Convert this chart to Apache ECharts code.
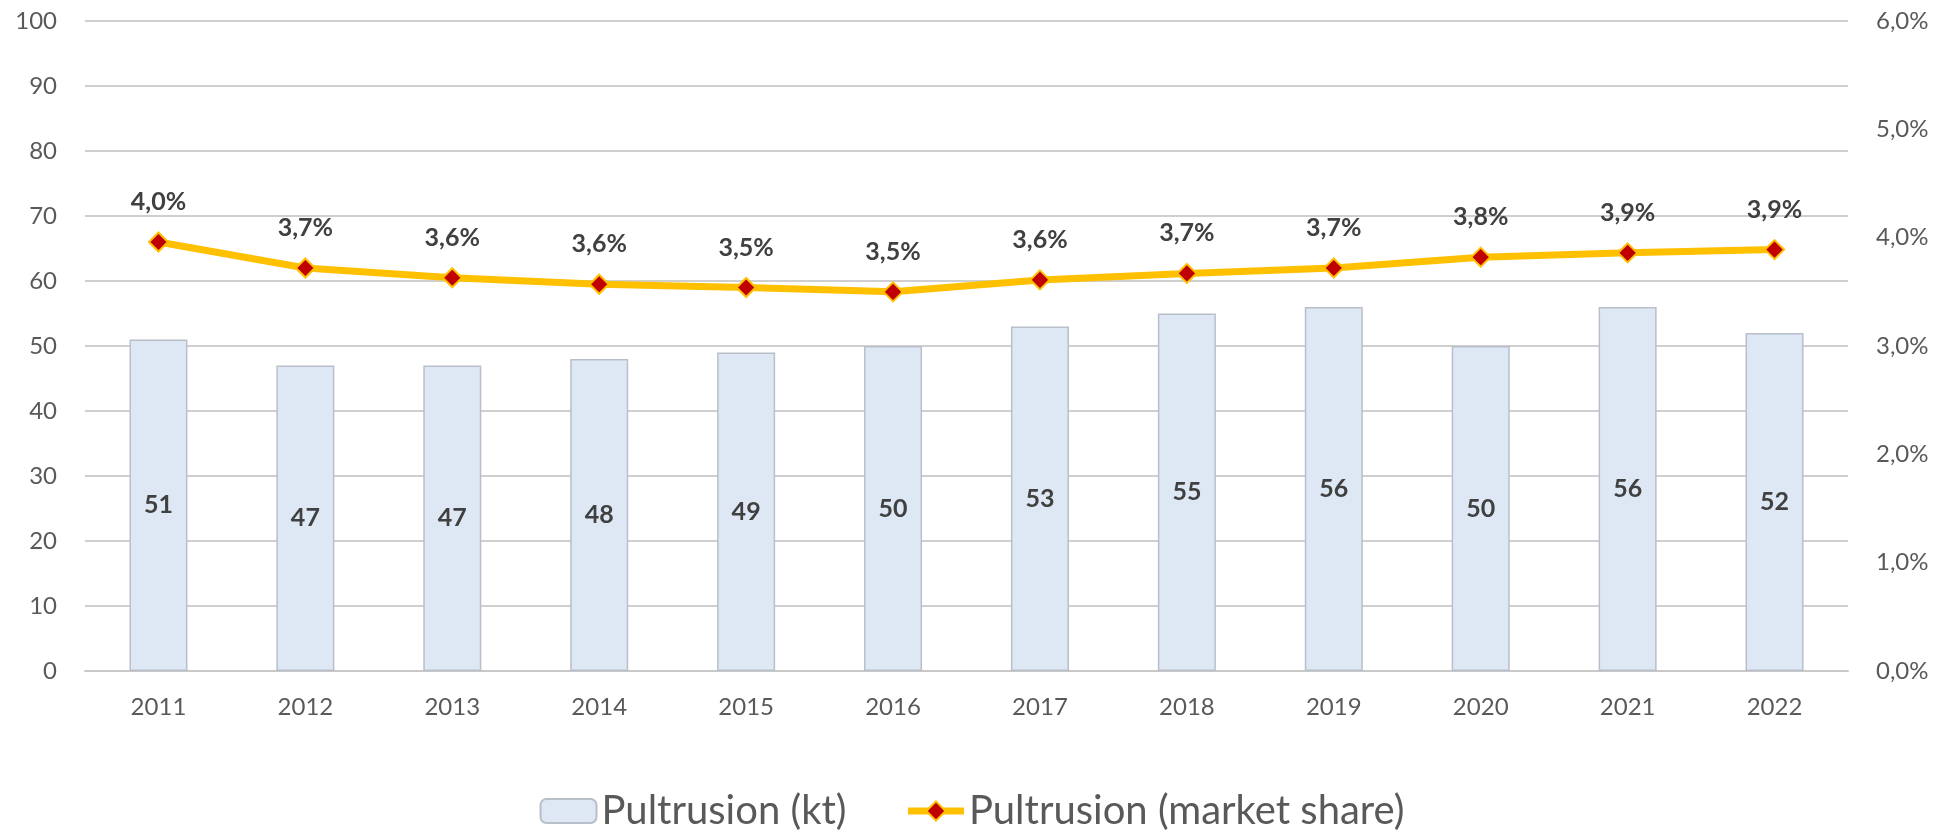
<!DOCTYPE html>
<html style="height:100%;">
<head>
  <meta charset="utf-8">
  <script src="https://cdn.jsdelivr.net/npm/echarts@6/dist/echarts.min.js"></script>
  <style>
    html, body { margin: 0; padding: 0; background: #fff; }
    #chart { width: 1944px; height: 834px; }
  </style>
</head>
<body>
  <div id="chart"></div>
  <script>
    // years on the x axis
    const years = ['2011', '2012', '2013', '2014', '2015', '2016', '2017', '2018', '2019', '2020', '2021', '2022'];
    // volume, kt
    const volume = [51, 47, 47, 48, 49, 50, 53, 55, 56, 50, 56, 52];
    // market share, %
    const share = [3.96, 3.72, 3.63, 3.57, 3.54, 3.50, 3.61, 3.67, 3.72, 3.82, 3.86, 3.89];

    const fmtPct = v => v.toFixed(1).replace('.', ',') + '%';
    const font = 'Lato, "Open Sans", sans-serif';

    const chart = echarts.init(document.getElementById('chart'));
    chart.setOption({
      backgroundColor: '#ffffff',
      animation: false,
      textStyle: { fontFamily: font },
      grid: { left: 85, right: 96, top: 21, bottom: 163 },
      legend: {
        top: 786,
        left: 'center',
        itemWidth: 56,
        itemHeight: 24,
        itemGap: 58,
        textStyle: { fontSize: 40, color: '#595959', fontFamily: font },
        data: [
          { name: 'Pultrusion (kt)' },
          {
            name: 'Pultrusion (market share)',
            lineStyle: { width: 7, color: '#ffc000' },
            itemStyle: { color: '#c00000', borderColor: '#ffc000', borderWidth: 2 }
          }
        ]
      },
      xAxis: {
        type: 'category',
        data: years,
        axisTick: { show: false },
        axisLine: { lineStyle: { color: '#c8c8c8', width: 2 } },
        axisLabel: { fontSize: 24, color: '#595959', margin: 24 }
      },
      yAxis: [{
        type: 'value',
        min: 0,
        max: 100,
        interval: 10,
        axisLine: { show: false },
        axisTick: { show: false },
        axisLabel: { fontSize: 24, color: '#595959', margin: 28 },
        splitLine: { lineStyle: { color: '#cfcfcf', width: 2 } }
      }, {
        type: 'value',
        min: 0,
        max: 6,
        interval: 1,
        axisLine: { show: false },
        axisTick: { show: false },
        splitLine: { show: false },
        axisLabel: { fontSize: 24, color: '#595959', margin: 28, formatter: v => fmtPct(v) }
      }],
      series: [{
        name: 'Pultrusion (kt)',
        type: 'bar',
        data: volume,
        barWidth: '39.5%',
        itemStyle: { color: '#dee8f4', borderColor: '#b9bfc9', borderWidth: 1.5 },
        label: {
          show: true,
          position: 'inside',
          fontSize: 25,
          fontWeight: 'bold',
          color: '#404040'
        }
      }, {
        name: 'Pultrusion (market share)',
        type: 'line',
        yAxisIndex: 1,
        data: share,
        symbol: 'diamond',
        symbolSize: 19,
        z: 5,
        lineStyle: { color: '#ffc000', width: 7 },
        itemStyle: { color: '#c00000', borderColor: '#ffc000', borderWidth: 2 },
        label: {
          show: true,
          position: 'top',
          distance: 17,
          fontSize: 25,
          fontWeight: 'bold',
          color: '#404040',
          formatter: p => fmtPct(p.value)
        }
      }]
    });
  </script>
</body>
</html>
